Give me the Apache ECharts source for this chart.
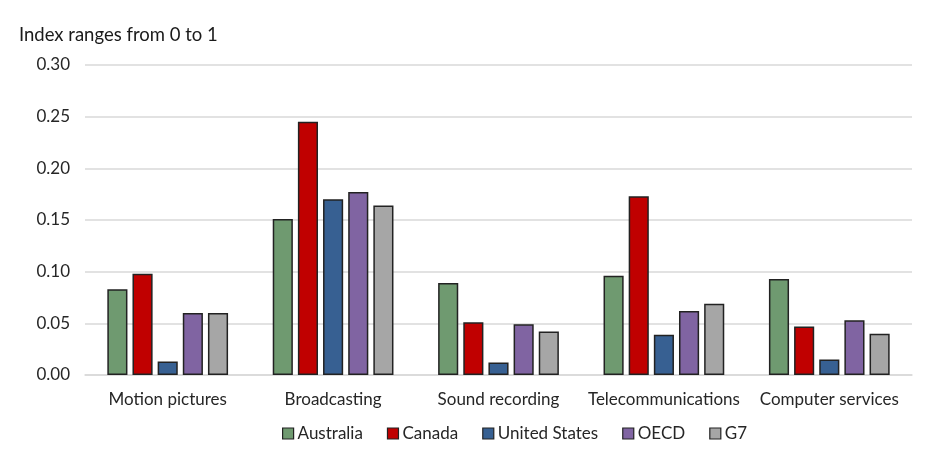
<!DOCTYPE html>
<html>
<head>
<meta charset="utf-8">
<script src="https://cdn.jsdelivr.net/npm/echarts@6/dist/echarts.min.js"></script>
<style>
  html, body { margin: 0; padding: 0; background: #fff; }
  #chart { width: 928px; height: 458px; }
</style>
</head>
<body>
<div id="chart"></div>
<script>
// Restrictiveness index by sector
const categories = ['Motion pictures', 'Broadcasting', 'Sound recording', 'Telecommunications', 'Computer services'];
const australia = [0.083, 0.151, 0.089, 0.096, 0.093];
const canada = [0.098, 0.245, 0.051, 0.173, 0.047];
const unitedStates = [0.013, 0.170, 0.012, 0.039, 0.015];
const oecd = [0.060, 0.177, 0.049, 0.062, 0.053];
const g7 = [0.060, 0.164, 0.042, 0.069, 0.040];

const seriesDefs = [
  { name: 'Australia', data: australia, color: '#6F9A70' },
  { name: 'Canada', data: canada, color: '#C00000' },
  { name: 'United States', data: unitedStates, color: '#376092' },
  { name: 'OECD', data: oecd, color: '#8064A2' },
  { name: 'G7', data: g7, color: '#A6A6A6' }
];

const font = 'Lato, Noto Sans, sans-serif';
const chart = echarts.init(document.getElementById('chart'), null, { renderer: 'canvas' });

chart.setOption({
  animation: false,
  backgroundColor: '#ffffff',
  title: {
    text: 'Index ranges from 0 to 1',
    left: 14,
    top: 21,
    textStyle: { fontFamily: font, fontSize: 18.5, fontWeight: 'normal', color: '#1a1a1a' }
  },
  grid: { left: 85, right: 16, top: 65, bottom: 83 },
  legend: {
    bottom: 11,
    left: 277,
    itemWidth: 11,
    itemHeight: 11,
    itemGap: 24,
    icon: 'rect',
    textStyle: { fontFamily: font, fontSize: 17, color: '#262626', padding: [0, 0, 0, -1] },
    data: seriesDefs.map(s => ({ name: s.name, itemStyle: { borderColor: '#222', borderWidth: 1.2 } }))
  },
  xAxis: {
    type: 'category',
    data: categories,
    axisLine: { lineStyle: { color: '#d9d9d9', width: 1.5 } },
    axisTick: { show: false },
    axisLabel: { interval: 0, fontFamily: font, fontSize: 17, color: '#262626', margin: 16 }
  },
  yAxis: {
    type: 'value',
    min: 0,
    max: 0.3,
    interval: 0.05,
    axisLine: { show: false },
    axisTick: { show: false },
    splitLine: { lineStyle: { color: '#d9d9d9', width: 1.5 } },
    axisLabel: {
      fontFamily: font, fontSize: 17, color: '#262626', margin: 15,
      formatter: v => v.toFixed(2)
    }
  },
  series: seriesDefs.map(s => ({
    name: s.name,
    type: 'bar',
    data: s.data,
    barGap: '25%',
    barCategoryGap: '27%',
    itemStyle: { color: s.color, borderColor: '#222', borderWidth: 1.5 }
  }))
});
</script>
</body>
</html>
